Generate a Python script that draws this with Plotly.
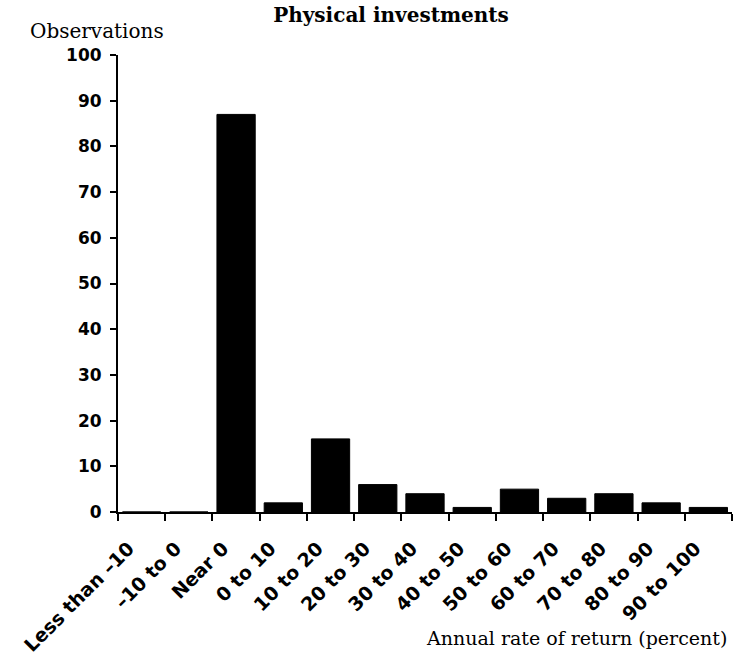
import plotly.graph_objects as go

categories = ["Less than \u201310", "\u201310 to 0", "Near 0", "0 to 10", "10 to 20",
              "20 to 30", "30 to 40", "40 to 50", "50 to 60", "60 to 70",
              "70 to 80", "80 to 90", "90 to 100"]
observations = [0, 0, 87, 2, 16, 6, 4, 1, 5, 3, 4, 2, 1]
y_ticks = [0, 10, 20, 30, 40, 50, 60, 70, 80, 90, 100]

fig = go.Figure()
fig.add_trace(go.Bar(x=categories, y=observations,
                     marker=dict(color="black", line=dict(width=1, color="black"))))

W, H = 734, 663
L, R, T, B = 118, 2, 54.5, 150.5
pw, ph = W - L - R, H - T - B

def px_x(x):
    return (x - L) / pw

def px_y(y):
    return (H - B - y) / ph

fig.update_layout(
    width=W, height=H,
    margin=dict(l=L, r=R, t=T, b=B, autoexpand=False),
    plot_bgcolor="white", paper_bgcolor="white",
    bargap=0.19,
    showlegend=False,
    title=dict(text="<b>Physical investments</b>", x=391 / W, xanchor="center",
               y=1 - 15 / H, yanchor="middle",
               font=dict(family="DejaVu Serif", size=20, color="black")),
    font=dict(color="black"),
)
fig.update_xaxes(
    type="category", range=[-0.5, 12.5], automargin=False,
    showline=True, linecolor="black", linewidth=2,
    ticks="outside", tickson="boundaries", ticklen=7, tickwidth=2, tickcolor="black",
    tickangle=-45, showgrid=False, zeroline=False,
    ticklabelstandoff=16, ticklabelshift=-13,
    tickfont=dict(family="DejaVu Sans", size=19, color="black", weight="bold"),
)
fig.update_yaxes(
    range=[0, 100], tickvals=y_ticks, automargin=False,
    showline=True, linecolor="black", linewidth=2,
    ticks="outside", ticklen=6, tickwidth=2, tickcolor="black",
    showgrid=False, zeroline=False, ticklabelstandoff=5,
    tickfont=dict(family="DejaVu Sans", size=17, color="black", weight="bold"),
)
fig.add_annotation(text="Observations", xref="paper", yref="paper",
                   x=px_x(97), y=px_y(30), xanchor="center", yanchor="middle",
                   showarrow=False, font=dict(family="DejaVu Serif", size=20, color="black"))
fig.add_annotation(text="Annual rate of return (percent)", xref="paper", yref="paper",
                   x=px_x(729), y=px_y(639), xanchor="right", yanchor="middle",
                   showarrow=False, font=dict(family="DejaVu Serif", size=19, color="black"))

fig.write_html("out.html", config={"displayModeBar": False},
               post_script="document.body.style.margin='0';document.body.style.padding='0';")
